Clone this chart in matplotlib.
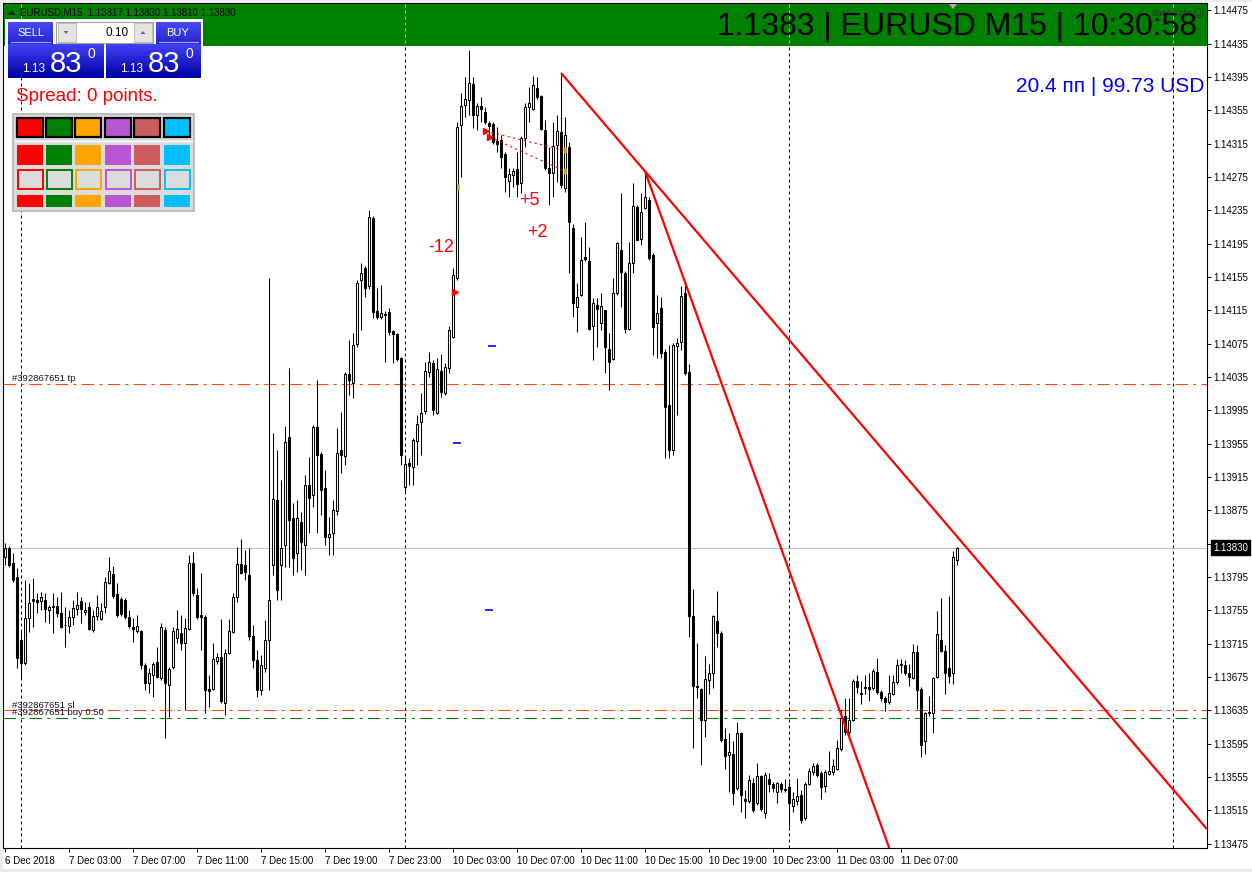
import matplotlib
matplotlib.use("Agg")
import matplotlib.pyplot as plt
import matplotlib.transforms as mtransforms
from matplotlib.patches import Rectangle, Polygon
from matplotlib.lines import Line2D
import numpy as np

plt.rcParams['font.family'] = ['Liberation Sans', 'DejaVu Sans']

# ---------------- data ----------------
symbol_line = "EURUSD,M15  1.13817 1.13830 1.13810 1.13830"
banner_text = "1.1383 | EURUSD M15 | 10:30:58"
profit_text = "20.4 пп | 99.73 USD"
spread_text = "Spread: 0 points."
lot_text = "0.10"
price_small = "1.13"
price_big = "83"
price_frac = "0"

opens = [
 1.13819, 1.13830, 1.13812, 1.13795, 1.13719, 1.13692, 1.13746, 1.13769, 1.13767, 1.13766,
 1.13767, 1.13755, 1.13760, 1.13760, 1.13752, 1.13737, 1.13736, 1.13747, 1.13757, 1.13766,
 1.13753, 1.13759, 1.13731, 1.13748, 1.13745, 1.13759, 1.13788, 1.13799, 1.13775, 1.13769,
 1.13767, 1.13747, 1.13735, 1.13730, 1.13730, 1.13690, 1.13668, 1.13678, 1.13693, 1.13674,
 1.13731, 1.13665, 1.13687, 1.13722, 1.13728, 1.13716, 1.13733, 1.13812, 1.13773, 1.13749,
 1.13747, 1.13661, 1.13661, 1.13694, 1.13699, 1.13644, 1.13704, 1.13729, 1.13771, 1.13811,
 1.13809, 1.13798, 1.13724, 1.13695, 1.13660, 1.13686, 1.13719, 1.13809, 1.13887, 1.13809,
 1.13833, 1.13963, 1.13866, 1.13824, 1.13861, 1.13833, 1.13906, 1.13893, 1.13975, 1.13943,
 1.13902, 1.13843, 1.13848, 1.13874, 1.13947, 1.13940, 1.14039, 1.14028, 1.14075, 1.14151,
 1.14166, 1.14144, 1.14226, 1.14114, 1.14107, 1.14111, 1.14113, 1.14090, 1.14087, 1.14058,
 1.13903, 1.13932, 1.13927, 1.13958, 1.13981, 1.13994, 1.14041, 1.14052, 1.13992, 1.14042,
 1.14016, 1.14046, 1.14083, 1.14154, 1.14338, 1.14362, 1.14368, 1.14387, 1.14350, 1.14360,
 1.14353, 1.14340, 1.14339, 1.14318, 1.14320, 1.14303, 1.14270, 1.14278, 1.14285, 1.14268,
 1.14322, 1.14359, 1.14357, 1.14382, 1.14372, 1.14332, 1.14286, 1.14280, 1.14314, 1.14329,
 1.14262, 1.14311, 1.14214, 1.14119, 1.14133, 1.14179, 1.14174, 1.14096, 1.14121, 1.14100,
 1.14115, 1.14069, 1.14057, 1.14136, 1.14188, 1.14160, 1.14093, 1.14172, 1.14239, 1.14201,
 1.14238, 1.14248, 1.14181, 1.14100, 1.14118, 1.14065, 1.14001, 1.13947, 1.14072, 1.14077,
 1.14136, 1.14041, 1.13748, 1.13664, 1.13661, 1.13624, 1.13672, 1.13680, 1.13742, 1.13728,
 1.13601, 1.13581, 1.13583, 1.13542, 1.13608, 1.13529, 1.13526, 1.13548, 1.13524, 1.13556,
 1.13512, 1.13553, 1.13547, 1.13537, 1.13547, 1.13541, 1.13543, 1.13520, 1.13526, 1.13533,
 1.13506, 1.13547, 1.13561, 1.13569, 1.13560, 1.13544, 1.13559, 1.13561, 1.13565, 1.13589,
 1.13628, 1.13609, 1.13624, 1.13670, 1.13656, 1.13663, 1.13663, 1.13662, 1.13681, 1.13657,
 1.13650, 1.13645, 1.13655, 1.13669, 1.13690, 1.13690, 1.13680, 1.13674, 1.13705, 1.13661,
 1.13598, 1.13632, 1.13632, 1.13675, 1.13720, 1.13706, 1.13686, 1.13680, 1.13815]

highs = [
 1.13836, 1.13832, 1.13824, 1.13806, 1.13731, 1.13791, 1.13788, 1.13794, 1.13776, 1.13777,
 1.13776, 1.13761, 1.13776, 1.13771, 1.13777, 1.13759, 1.13755, 1.13767, 1.13777, 1.13771,
 1.13765, 1.13765, 1.13755, 1.13773, 1.13764, 1.13795, 1.13819, 1.13808, 1.13788, 1.13771,
 1.13770, 1.13755, 1.13746, 1.13749, 1.13732, 1.13692, 1.13686, 1.13693, 1.13711, 1.13740,
 1.13735, 1.13687, 1.13735, 1.13755, 1.13749, 1.13746, 1.13822, 1.13825, 1.13782, 1.13800,
 1.13750, 1.13678, 1.13716, 1.13704, 1.13745, 1.13709, 1.13745, 1.13776, 1.13831, 1.13841,
 1.13827, 1.13830, 1.13737, 1.13707, 1.13702, 1.13743, 1.14154, 1.13968, 1.13947, 1.13912,
 1.13976, 1.14046, 1.13884, 1.13887, 1.13873, 1.13918, 1.13939, 1.13977, 1.14032, 1.13945,
 1.13924, 1.13867, 1.13887, 1.13974, 1.13993, 1.14041, 1.14080, 1.14088, 1.14151, 1.14172,
 1.14168, 1.14235, 1.14228, 1.14142, 1.14145, 1.14114, 1.14118, 1.14092, 1.14088, 1.14059,
 1.13939, 1.13938, 1.13962, 1.13989, 1.14016, 1.14053, 1.14065, 1.14055, 1.14058, 1.14063,
 1.14052, 1.14096, 1.14166, 1.14341, 1.14376, 1.14395, 1.14428, 1.14395, 1.14364, 1.14371,
 1.14359, 1.14342, 1.14341, 1.14335, 1.14326, 1.14305, 1.14286, 1.14286, 1.14305, 1.14324,
 1.14364, 1.14383, 1.14396, 1.14395, 1.14374, 1.14344, 1.14311, 1.14341, 1.14350, 1.14400,
 1.14347, 1.14317, 1.14219, 1.14148, 1.14203, 1.14221, 1.14191, 1.14130, 1.14130, 1.14136,
 1.14116, 1.14088, 1.14154, 1.14197, 1.14256, 1.14162, 1.14197, 1.14268, 1.14242, 1.14256,
 1.14282, 1.14251, 1.14184, 1.14133, 1.14131, 1.14069, 1.14073, 1.14076, 1.14082, 1.14144,
 1.14149, 1.14051, 1.13781, 1.13716, 1.13662, 1.13700, 1.13691, 1.13749, 1.13778, 1.13730,
 1.13614, 1.13608, 1.13598, 1.13621, 1.13609, 1.13540, 1.13557, 1.13554, 1.13572, 1.13557,
 1.13561, 1.13560, 1.13549, 1.13549, 1.13549, 1.13553, 1.13549, 1.13537, 1.13554, 1.13540,
 1.13549, 1.13566, 1.13572, 1.13572, 1.13562, 1.13563, 1.13586, 1.13577, 1.13599, 1.13637,
 1.13650, 1.13650, 1.13673, 1.13678, 1.13670, 1.13678, 1.13680, 1.13685, 1.13698, 1.13660,
 1.13652, 1.13678, 1.13678, 1.13697, 1.13697, 1.13695, 1.13691, 1.13715, 1.13714, 1.13663,
 1.13633, 1.13652, 1.13675, 1.13754, 1.13770, 1.13714, 1.13772, 1.13826, 1.13831]

lows = [
 1.13809, 1.13807, 1.13789, 1.13686, 1.13673, 1.13690, 1.13729, 1.13735, 1.13752, 1.13755,
 1.13741, 1.13740, 1.13728, 1.13747, 1.13734, 1.13711, 1.13728, 1.13737, 1.13749, 1.13740,
 1.13749, 1.13731, 1.13729, 1.13743, 1.13743, 1.13752, 1.13787, 1.13770, 1.13747, 1.13748,
 1.13745, 1.13734, 1.13717, 1.13728, 1.13685, 1.13660, 1.13656, 1.13651, 1.13674, 1.13671,
 1.13602, 1.13627, 1.13685, 1.13716, 1.13707, 1.13635, 1.13731, 1.13772, 1.13745, 1.13707,
 1.13632, 1.13639, 1.13659, 1.13691, 1.13644, 1.13629, 1.13703, 1.13728, 1.13765, 1.13799,
 1.13791, 1.13719, 1.13686, 1.13651, 1.13654, 1.13681, 1.13660, 1.13797, 1.13767, 1.13767,
 1.13807, 1.13807, 1.13797, 1.13801, 1.13803, 1.13797, 1.13848, 1.13879, 1.13848, 1.13870,
 1.13833, 1.13822, 1.13822, 1.13870, 1.13920, 1.13929, 1.14014, 1.14010, 1.14071, 1.14091,
 1.14131, 1.14141, 1.14106, 1.14105, 1.14105, 1.14053, 1.14086, 1.14052, 1.14054, 1.13929,
 1.13897, 1.13906, 1.13906, 1.13929, 1.13941, 1.13991, 1.14035, 1.13989, 1.13991, 1.14011,
 1.14014, 1.14040, 1.14082, 1.14151, 1.14275, 1.14347, 1.14350, 1.14334, 1.14332, 1.14341,
 1.14339, 1.14323, 1.14315, 1.14305, 1.14286, 1.14257, 1.14251, 1.14263, 1.14251, 1.14256,
 1.14311, 1.14341, 1.14355, 1.14369, 1.14331, 1.14283, 1.14241, 1.14251, 1.14269, 1.14262,
 1.14257, 1.14160, 1.14107, 1.14089, 1.14132, 1.14174, 1.14092, 1.14055, 1.14071, 1.14091,
 1.14040, 1.14020, 1.14056, 1.14133, 1.14119, 1.14088, 1.14091, 1.14160, 1.14199, 1.14194,
 1.14237, 1.14175, 1.14061, 1.14058, 1.14058, 1.13938, 1.13938, 1.13941, 1.13989, 1.14067,
 1.14037, 1.13723, 1.13590, 1.13650, 1.13569, 1.13603, 1.13655, 1.13662, 1.13711, 1.13597,
 1.13565, 1.13537, 1.13521, 1.13540, 1.13513, 1.13506, 1.13524, 1.13513, 1.13521, 1.13514,
 1.13506, 1.13537, 1.13537, 1.13524, 1.13537, 1.13537, 1.13495, 1.13513, 1.13521, 1.13500,
 1.13503, 1.13545, 1.13557, 1.13555, 1.13529, 1.13537, 1.13557, 1.13558, 1.13563, 1.13586,
 1.13605, 1.13603, 1.13622, 1.13656, 1.13643, 1.13655, 1.13646, 1.13660, 1.13655, 1.13646,
 1.13634, 1.13643, 1.13654, 1.13667, 1.13680, 1.13678, 1.13664, 1.13673, 1.13637, 1.13579,
 1.13583, 1.13628, 1.13608, 1.13674, 1.13705, 1.13655, 1.13668, 1.13667, 1.13809]

closes = [
 1.13830, 1.13809, 1.13791, 1.13698, 1.13692, 1.13746, 1.13764, 1.13766, 1.13765, 1.13771,
 1.13757, 1.13759, 1.13759, 1.13752, 1.13735, 1.13738, 1.13747, 1.13758, 1.13761, 1.13757,
 1.13755, 1.13733, 1.13748, 1.13759, 1.13754, 1.13789, 1.13802, 1.13772, 1.13749, 1.13751,
 1.13747, 1.13736, 1.13733, 1.13736, 1.13690, 1.13668, 1.13680, 1.13691, 1.13675, 1.13735,
 1.13668, 1.13685, 1.13730, 1.13733, 1.13716, 1.13734, 1.13812, 1.13776, 1.13747, 1.13747,
 1.13660, 1.13658, 1.13697, 1.13699, 1.13646, 1.13704, 1.13730, 1.13771, 1.13811, 1.13800,
 1.13801, 1.13724, 1.13695, 1.13660, 1.13690, 1.13719, 1.13767, 1.13889, 1.13779, 1.13830,
 1.13957, 1.13863, 1.13818, 1.13866, 1.13837, 1.13906, 1.13890, 1.13975, 1.13941, 1.13899,
 1.13843, 1.13847, 1.13875, 1.13944, 1.13941, 1.14039, 1.14032, 1.14073, 1.14148, 1.14160,
 1.14142, 1.14227, 1.14113, 1.14107, 1.14112, 1.14110, 1.14089, 1.14087, 1.14057, 1.13941,
 1.13931, 1.13928, 1.13959, 1.13979, 1.13992, 1.14042, 1.14053, 1.13995, 1.14045, 1.14017,
 1.14047, 1.14091, 1.14157, 1.14335, 1.14360, 1.14369, 1.14388, 1.14350, 1.14360, 1.14357,
 1.14341, 1.14336, 1.14317, 1.14315, 1.14299, 1.14275, 1.14279, 1.14282, 1.14267, 1.14322,
 1.14359, 1.14364, 1.14385, 1.14371, 1.14333, 1.14286, 1.14280, 1.14312, 1.14330, 1.14265,
 1.14325, 1.14221, 1.14124, 1.14131, 1.14175, 1.14177, 1.14093, 1.14124, 1.14117, 1.14120,
 1.14071, 1.14053, 1.14136, 1.14196, 1.14161, 1.14093, 1.14172, 1.14240, 1.14200, 1.14233,
 1.14251, 1.14178, 1.14095, 1.14112, 1.14064, 1.13999, 1.13947, 1.14073, 1.14076, 1.14132,
 1.14040, 1.13748, 1.13664, 1.13663, 1.13624, 1.13673, 1.13680, 1.13748, 1.13728, 1.13599,
 1.13580, 1.13585, 1.13536, 1.13608, 1.13533, 1.13526, 1.13551, 1.13515, 1.13556, 1.13517,
 1.13557, 1.13547, 1.13542, 1.13548, 1.13541, 1.13540, 1.13524, 1.13529, 1.13532, 1.13503,
 1.13547, 1.13562, 1.13568, 1.13557, 1.13543, 1.13561, 1.13562, 1.13568, 1.13590, 1.13626,
 1.13609, 1.13624, 1.13670, 1.13663, 1.13655, 1.13662, 1.13661, 1.13682, 1.13657, 1.13650,
 1.13645, 1.13656, 1.13669, 1.13690, 1.13691, 1.13680, 1.13675, 1.13705, 1.13660, 1.13593,
 1.13632, 1.13633, 1.13674, 1.13727, 1.13706, 1.13680, 1.13676, 1.13819, 1.13830]

bid_price = 1.13830
tp_price = 1.14027
sl_price = 1.13635
buy_price = 1.13626
order_label = "#392867651"

separator_idx = [4, 100, 196, 292]
x_tick_idx = [0, 16, 32, 48, 64, 80, 96, 112, 128, 144, 160, 176, 192, 208, 224]
x_tick_labels = ["6 Dec 2018", "7 Dec 03:00", "7 Dec 07:00", "7 Dec 11:00", "7 Dec 15:00",
                 "7 Dec 19:00", "7 Dec 23:00", "10 Dec 03:00", "10 Dec 07:00", "10 Dec 11:00",
                 "10 Dec 15:00", "10 Dec 19:00", "10 Dec 23:00", "11 Dec 03:00", "11 Dec 07:00"]
y_tick_vals = [1.14475, 1.14435, 1.14395, 1.14355, 1.14315, 1.14275, 1.14235, 1.14195, 1.14155,
               1.14115, 1.14075, 1.14035, 1.13995, 1.13955, 1.13915, 1.13875, 1.13835, 1.13795,
               1.13755, 1.13715, 1.13675, 1.13635, 1.13595, 1.13555, 1.13515, 1.13475]

trend_a = [(139, 1.14400), (160, 1.14282)]
trend_b = [(160, 1.14282), (170, 1.14149)]
trade_lines = [[(120.25, 1.14330), (140.0, 1.14307)],
               [(121.25, 1.14323), (139.5, 1.14283)]]
trade_labels = [("-12", 109, 1.14190), ("+5", 131, 1.14247), ("+2", 133, 1.14209)]
red_marks_x = [120.25, 121.25, 112.6]
red_marks_y = [1.14330, 1.14323, 1.14137]
gold_marks_x = [113.3, 140.0, 140.0]
gold_marks_y = [1.14263, 1.14307, 1.14282]
blue_marks_x = [121.75, 113.0, 121.0]
blue_marks_y = [1.14072, 1.13956, 1.13755]

palette = ['#ff0000', '#008000', '#ffa500', '#ba55d3', '#cd5c5c', '#00bfff']

# ---------------- figure ----------------
W, H = 1252, 872
fig = plt.figure(figsize=(W / 100, H / 100), dpi=100)
fig.patch.set_facecolor('white')

ax = fig.add_axes([3 / W, 1 - 848 / H, 1204 / W, 845 / H])
ax.set_facecolor('white')
ax.set_xlim(-0.5, 300.5)
ax.set_ylim(1.134699, 1.144839)

idx = np.arange(len(closes))
o = np.array(opens); c = np.array(closes); h = np.array(highs); l = np.array(lows)
top = np.maximum(o, c); bot = np.minimum(o, c)
ax.vlines(idx, np.minimum(l, bot), np.maximum(h, top), colors='black', lw=0.75, zorder=3)
up = c >= o
ax.bar(idx[up], (top - bot)[up], bottom=bot[up], width=0.5, facecolor='white',
       edgecolor='black', linewidth=0.75, zorder=4)
ax.bar(idx[~up], (top - bot)[~up], bottom=bot[~up], width=0.5, facecolor='black',
       edgecolor='black', linewidth=0.75, zorder=4)

# day separators
for s in separator_idx:
    ax.axvline(s, color='black', lw=0.72, linestyle=(0, (3, 3)), zorder=1)

# bid & order lines
ax.axhline(bid_price, color='#c0c0c0', lw=0.75, zorder=1.5)
dd = (0, (12, 5, 3, 5))
ax.axhline(tp_price, color='#ff4500', lw=0.75, linestyle=dd, zorder=2)
ax.axhline(sl_price, color='#ff4500', lw=0.75, linestyle=dd, zorder=2)
ax.axhline(buy_price, color='#008000', lw=0.75, linestyle=dd, zorder=2)
yt = ax.get_yaxis_transform()
lab_kw = dict(transform=yt, fontsize=6.8, color='#101030', ha='left', va='bottom', zorder=6)
ax.text(0.0075, tp_price + 0.00001, order_label + " tp", **lab_kw)
ax.text(0.0075, sl_price + 0.00001, order_label + " sl", **lab_kw)
ax.text(0.0075, buy_price + 0.00001, order_label + " buy 0.50", **lab_kw)

# trend lines (rays)
def ray(p, q, xend):
    k = (q[1] - p[1]) / (q[0] - p[0])
    return [p[0], xend], [p[1], p[1] + k * (xend - p[0])]

for tl in (trend_a, trend_b):
    xs, ys = ray(tl[0], tl[1], 300.5)
    ax.plot(xs, ys, color='#ff0000', lw=1.6, zorder=7, solid_capstyle='butt')

# trades
for tl in trade_lines:
    ax.plot([p[0] for p in tl], [p[1] for p in tl], color='#ff0000', lw=0.8,
            linestyle=(0, (2, 3)), zorder=6)
ax.plot(red_marks_x, red_marks_y, linestyle='none', marker='>', ms=4, color='#ff0000', zorder=7)
ax.plot(gold_marks_x, gold_marks_y, linestyle='none', marker='|', ms=5, mew=2, color='#daa520', zorder=7)
ax.plot(blue_marks_x, blue_marks_y, linestyle='none', marker='_', ms=6, mew=1.2, color='#0000ff', zorder=7)
for txt, xi, yp in trade_labels:
    ax.text(xi, yp, txt, color='#ff0000', fontsize=13, ha='center', va='center', zorder=8)

# axes styling
for sp in ['left', 'right', 'bottom', 'top']:
    ax.spines[sp].set_linewidth(0.8)
    ax.spines[sp].set_color('black')
ax.yaxis.tick_right()
ax.set_yticks(y_tick_vals)
ax.set_yticklabels([f"{v:.5f}" for v in y_tick_vals])
ax.tick_params(axis='y', direction='out', length=2.9, width=0.72, pad=1.5, labelsize=7,
               right=True, left=False)
ax.set_xticks(x_tick_idx)
ax.set_xticklabels(x_tick_labels, ha='left')
ax.tick_params(axis='x', direction='out', length=2.9, width=0.72, pad=2.5, labelsize=7)

# bid label
ax.text(1.0 + 6 / 1204, bid_price, f"{bid_price:.5f}", transform=yt, fontsize=7, color='white',
        ha='left', va='center', zorder=10, clip_on=False,
        bbox=dict(boxstyle='square,pad=0.25', facecolor='black', edgecolor='black'))

# ---------------- overlay (terminal widgets, pixel coordinates) ----------------
ov = fig.add_axes([0, 0, 1, 1])
ov.set_zorder(ax.get_zorder() + 1)
ov.set_xlim(0, W); ov.set_ylim(H, 0)
ov.set_autoscale_on(False)
ov.axis('off')

def rect(x, y, w, hh, fc, ec='none', lw=0, z=1):
    ov.add_patch(Rectangle((x, y), w, hh, facecolor=fc, edgecolor=ec, linewidth=lw, zorder=z))

def grad(x, y, w, hh, c0, c1, n=14, z=2):
    c0 = np.array(matplotlib.colors.to_rgb(c0)); c1 = np.array(matplotlib.colors.to_rgb(c1))
    for k in range(n):
        t = k / (n - 1)
        ov.add_patch(Rectangle((x, y + k * hh / n), w, hh / n + 0.4,
                               facecolor=tuple(c0 * (1 - t) + c1 * t), edgecolor='none', zorder=z))

# window frame
rect(0, 0, W, 2.5, '#ececec')
rect(0, 0, 2.5, H, '#ececec')
rect(0, 869, W, 3, '#ececec')

# banner
rect(4, 4, 1203, 42.5, '#008000', z=1)
bl = mtransforms.blended_transform_factory(ax.transData, ov.transData)
for s in separator_idx:
    ov.add_line(Line2D([s, s], [4, 46.5], transform=bl, color='#ff80ff', lw=0.72,
                       linestyle=(0, (3, 3)), zorder=1.5))
ov.text(1197, 27.5, banner_text, fontsize=23, color='black', ha='right', va='center', zorder=3)
ov.text(1151, 14, "BankSafe", fontsize=6.6, color='#303030', ha='left', va='center', zorder=3)
ov.text(1198, 14, "\u263A", fontsize=8, color='#303030', ha='center', va='center', zorder=3,
        family='DejaVu Sans')
ov.add_patch(Polygon([[949, 4], [957, 4], [953, 9]], closed=True, facecolor='#b0b0b0',
                     edgecolor='none', zorder=3))
ov.add_patch(Polygon([[8, 15], [15, 15], [11.5, 10]], closed=True, facecolor='black',
                     edgecolor='none', zorder=3))
ov.text(20, 12.5, symbol_line, fontsize=7, color='black', ha='left', va='center', zorder=3)

# trade panel
rect(5, 19.5, 198, 59, 'white', z=1.8)
grad(8, 22, 45, 22, '#4848f4', '#2424d0')
grad(155.5, 22, 45.5, 22, '#4848f4', '#2424d0')
ov.plot([11, 50], [42.5, 42.5], color='#a8a8ff', lw=0.8, zorder=3)
ov.plot([159, 198], [42.5, 42.5], color='#a8a8ff', lw=0.8, zorder=3)
ov.text(30.5, 32.5, "SELL", fontsize=8, color='white', ha='center', va='center', zorder=4)
ov.text(178, 32.5, "BUY", fontsize=8, color='white', ha='center', va='center', zorder=4)
rect(56, 22, 97, 21.5, 'white', ec='#a0a0a0', lw=0.8, z=2)
rect(57.5, 23.5, 18, 18.5, '#e4e4e4', ec='#b8b8b8', lw=0.6, z=3)
rect(134, 23.5, 18, 18.5, '#e4e4e4', ec='#b8b8b8', lw=0.6, z=3)
ov.add_patch(Polygon([[63.5, 31], [68.5, 31], [66, 34]], closed=True, facecolor='#5a6aa8',
                     edgecolor='none', zorder=4))
ov.add_patch(Polygon([[140.5, 34], [145.5, 34], [143, 31]], closed=True, facecolor='#5a6aa8',
                     edgecolor='none', zorder=4))
ov.text(128.5, 32.5, lot_text, fontsize=8.5, color='black', ha='right', va='center', zorder=4)
grad(8, 44, 96, 34, '#4040f4', '#0000a8')
grad(106, 44, 95, 34, '#4040f4', '#0000a8')
for x0 in (8, 106):
    ov.text(x0 + 14.5, 72, price_small, fontsize=8.5, color='white', ha='left',
            va='baseline', zorder=4)
    ov.text(x0 + 42, 72.5, price_big, fontsize=21, color='white', ha='left',
            va='baseline', zorder=4)
    ov.text(x0 + 79, 58, price_frac, fontsize=10, color='white', ha='left',
            va='baseline', zorder=4)

# spread text
ov.text(15.5, 96.5, spread_text, fontsize=13.5, color='#ff0000', ha='left', va='center', zorder=4)

# colour palette
rect(13, 114, 181, 97, '#dcdcdc', ec='#b4b4b4', lw=1.2, z=2)
ov.plot([15, 192], [141.5, 141.5], color='white', lw=1.0, zorder=3)
cols_x = [17, 46, 75, 105, 134, 164]
for cx, col in zip(cols_x, palette):
    rect(cx, 118.5, 25.5, 18.5, col, ec='black', lw=1.6, z=3)
    rect(cx, 145, 26, 20, col, z=3)
    rect(cx + 0.5, 170, 25, 19, '#dcdcdc', ec=col, lw=1.4, z=3)
    rect(cx, 195, 26, 12, col, z=3)

# profit text
ov.text(1204, 87, profit_text, fontsize=15, color='#0000ff', ha='right', va='center', zorder=4)

fig.savefig("out.png", dpi=100, facecolor='white')
